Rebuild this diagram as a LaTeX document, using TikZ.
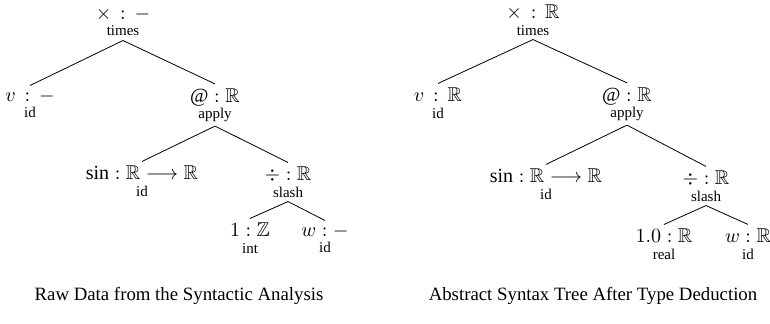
\documentclass[tikz,border=0pt]{standalone}
\usepackage{amsmath, amssymb}
\usepackage{fontspec}
\setmainfont{Liberation Serif}
\usetikzlibrary{positioning}

\newcommand{\lbl}[1]{{\fontsize{7.5}{8}\selectfont #1}}

\begin{document}
\begin{tikzpicture}[x=0.5pt, y=-0.5pt,
                    ast/.style={align=center, inner sep=2pt, font=\fontsize{10}{8.2}\selectfont},
                    edge/.style={thin},
                    captxt/.style={font=\fontsize{9.4}{11}\selectfont}]
                \useasboundingbox (0,0) rectangle (770,323);
                % raw data
                \node[ast] (t1) at (123,22) {$\times \,:\, -$\\\lbl{times}};
                \node[ast] (v1) at (30,104) {$v \,:\, -$\\\lbl{id}};
                \node[ast] (a1) at (215,105) {$@ : \mathbb{R}$\\\lbl{apply}};
                \node[ast] (s1) at (142,181) {$\sin : \mathbb{R} \longrightarrow \mathbb{R}$\\\lbl{id}};
                \node[ast] (d1) at (288,182) {$\div : \mathbb{R}$\\\lbl{slash}};
                \node[ast] (i1) at (250,238) {$1 : \mathbb{Z}$\\\lbl{int}};
                \node[ast] (w1) at (325,239) {$w : -$\\\lbl{id}};
                \draw[edge] (t1.south) -- (v1.north);
                \draw[edge] (t1.south) -- (a1.north);
                \draw[edge] (a1.south) -- (s1.north);
                \draw[edge] (a1.south) -- (d1.north);
                \draw[edge] (d1.south) -- (i1.north);
                \draw[edge] (d1.south) -- (w1.north);
                \node[captxt] (c1) at (179,296) {Raw Data from the Syntactic Analysis};
                % after type deduction
                \node[ast] (t2) at (533,20) {$\times \,:\, \mathbb{R}$\\\lbl{times}};
                \node[ast] (v2) at (438,103) {$v \,:\, \mathbb{R}$\\\lbl{id}};
                \node[ast] (a2) at (627,104) {$@ : \mathbb{R}$\\\lbl{apply}};
                \node[ast] (s2) at (546,184) {$\sin : \mathbb{R} \longrightarrow \mathbb{R}$\\\lbl{id}};
                \node[ast] (d2) at (706,186) {$\div : \mathbb{R}$\\\lbl{slash}};
                \node[ast] (r2) at (664,244) {$1.0 : \mathbb{R}$\\\lbl{real}};
                \node[ast] (w2) at (748,244) {$w : \mathbb{R}$\\\lbl{id}};
                \draw[edge] (t2.south) -- (v2.north);
                \draw[edge] (t2.south) -- (a2.north);
                \draw[edge] (a2.south) -- (s2.north);
                \draw[edge] (a2.south) -- (d2.north);
                \draw[edge] (d2.south) -- (r2.north);
                \draw[edge] (d2.south) -- (w2.north);
                \node[captxt] (c2) at (593,296) {Abstract Syntax Tree After Type Deduction};
            \end{tikzpicture}
\end{document}
